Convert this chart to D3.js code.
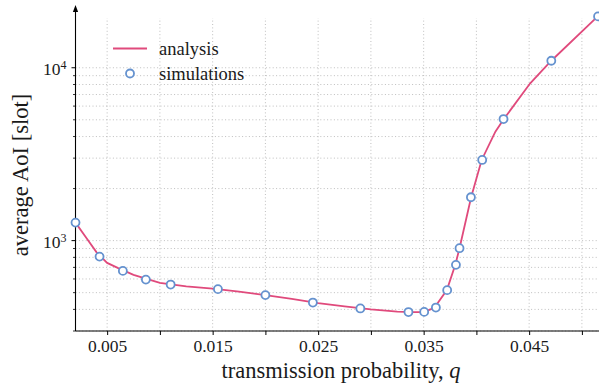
<!DOCTYPE html>
<html>
<head>
<meta charset="utf-8">
<script src="https://cdn.jsdelivr.net/npm/d3@7"></script>
<style>
  body { margin: 0; background: #fff; }
  svg text { font-family: "Liberation Serif", "DejaVu Serif", serif; fill: #1a1a1a; }
</style>
</head>
<body>
<div id="chart"></div>
<script>
// analysis curve
const qAnalysis = [0.002, 0.003, 0.004, 0.005, 0.006, 0.0075, 0.01, 0.0125, 0.015, 0.0175,
                   0.02, 0.0225, 0.025, 0.0275, 0.03, 0.0325, 0.034, 0.035, 0.036, 0.0372,
                   0.038, 0.0384, 0.0395, 0.0405, 0.0418, 0.0426, 0.0451, 0.0471, 0.0515];
const aoiAnalysis = [1271, 1043, 855, 743, 695, 633, 570, 544, 527, 507,
                     484, 460, 435, 416, 400, 388, 386, 386, 408, 517,
                     724, 904, 1782, 2928, 4266, 5051, 8130, 10980, 19820];

// simulation points
const qSim = [0.002, 0.00428, 0.00649, 0.00867, 0.01102, 0.0155, 0.02, 0.0245, 0.029, 0.03356,
              0.03505, 0.03616, 0.03723, 0.03806, 0.0384, 0.03948, 0.04055, 0.04257, 0.0471, 0.05153];
const aoiSim = [1271, 808, 668, 595, 557, 524, 484, 438, 405, 386,
                387, 410, 517, 724, 904, 1782, 2928, 5051, 10980, 19820];

const xTicks = d3.range(1, 11).map(i => +(i * 0.005).toFixed(3));
const xTickLabels = ["0.005", "", "0.015", "", "0.025", "", "0.035", "", "0.045", ""];
const yMajor = [1000, 10000];
const yMinor = [300, 400, 500, 600, 700, 800, 900, 2000, 3000, 4000, 5000, 6000, 7000, 8000, 9000];

const width = 599, height = 383,
      margin = ({ top: 18, right: -4, bottom: 52, left: 75.5 });

const lineColor = "#e04a7c", simColor = "#6592cf";
const serif = "'Liberation Serif', serif";

let svg = d3.select("#chart")
    .append("svg")
    .attr("width", width)
    .attr("height", height);

let x = d3.scaleLinear()
    .domain([0.002, 0.052])
    .range([margin.left, width - margin.right]);

let y = d3.scaleLog()
    .domain([300, 19400])
    .range([height - margin.bottom, margin.top]);

// grid
let grid = svg.append("g")
    .attr("stroke", "#b8b8b8")
    .attr("stroke-width", 0.9)
    .attr("stroke-dasharray", "1,2.4");

grid.selectAll(".vg")
    .data(xTicks)
    .join("line")
    .attr("x1", d => x(d)).attr("x2", d => x(d))
    .attr("y1", y.range()[0]).attr("y2", y.range()[1]);

grid.selectAll(".hg")
    .data(yMajor.concat(yMinor))
    .join("line")
    .attr("x1", x.range()[0]).attr("x2", x.range()[1])
    .attr("y1", d => y(d)).attr("y2", d => y(d));

// x axis
let xAxis = svg.append("g")
    .attr("transform", `translate(0,${height - margin.bottom})`)
    .call(d3.axisBottom(x)
        .tickValues(xTicks)
        .tickFormat((d, i) => xTickLabels[i])
        .tickSize(4)
        .tickPadding(5));
xAxis.attr("font-family", serif);
xAxis.select(".domain").attr("stroke", "#000").attr("stroke-width", 1.1)
    .attr("d", `M${x.range()[0]},0H${width}`);
xAxis.selectAll("text").style("font-size", "17.5px").attr("fill", "#1a1a1a");

// y axis
let yAxis = svg.append("g")
    .attr("transform", `translate(${margin.left},0)`);
yAxis.append("line")
    .attr("x1", 0).attr("x2", 0)
    .attr("y1", y.range()[0]).attr("y2", 9)
    .attr("stroke", "#000").attr("stroke-width", 1.1);
yAxis.append("path")
    .attr("d", "M0,5L-2.6,12L2.6,12Z")
    .attr("fill", "#000");
yAxis.selectAll(".ymaj")
    .data(yMajor)
    .join("line")
    .attr("x1", -4).attr("x2", 0)
    .attr("y1", d => y(d)).attr("y2", d => y(d))
    .attr("stroke", "#000");
yAxis.selectAll(".ymin")
    .data(yMinor)
    .join("line")
    .attr("x1", -2.5).attr("x2", 0)
    .attr("y1", d => y(d)).attr("y2", d => y(d))
    .attr("stroke", "#000").attr("stroke-width", 0.8);

let yLab = yAxis.selectAll(".ylab")
    .data(yMajor)
    .join("text")
    .attr("x", -9)
    .attr("y", d => y(d) + 7.5)
    .attr("text-anchor", "end")
    .style("font-size", "17.5px");
yLab.append("tspan").text("10");
yLab.append("tspan")
    .attr("dy", "-0.55em")
    .style("font-size", "12px")
    .text(d => Math.round(Math.log10(d)));

// analysis line
let line = d3.line()
    .x((d, i) => x(qAnalysis[i]))
    .y(d => y(d));

svg.append("path")
    .datum(aoiAnalysis)
    .attr("fill", "none")
    .attr("stroke", lineColor)
    .attr("stroke-width", 1.8)
    .attr("d", line);

// simulation markers
svg.selectAll(".sim")
    .data(aoiSim)
    .join("circle")
    .attr("cx", (d, i) => x(qSim[i]))
    .attr("cy", d => y(d))
    .attr("r", 4)
    .attr("fill", "#fff")
    .attr("stroke", simColor)
    .attr("stroke-width", 1.8);

// legend
let legend = svg.append("g");
legend.append("line")
    .attr("x1", 113).attr("x2", 147)
    .attr("y1", 48.5).attr("y2", 48.5)
    .attr("stroke", lineColor).attr("stroke-width", 1.8);
legend.append("text")
    .attr("x", 159).attr("y", 54.5)
    .style("font-size", "18.5px")
    .text("analysis");
legend.append("circle")
    .attr("cx", 130).attr("cy", 73.5).attr("r", 4)
    .attr("fill", "#fff").attr("stroke", simColor).attr("stroke-width", 1.8);
legend.append("text")
    .attr("x", 159).attr("y", 79.5)
    .style("font-size", "18.5px")
    .text("simulations");

// axis labels
let xl = svg.append("text")
    .attr("x", 341)
    .attr("y", 378)
    .attr("text-anchor", "middle")
    .style("font-size", "22.5px");
xl.append("tspan").text("transmission probability, ");
xl.append("tspan").style("font-style", "italic").text("q");

svg.append("text")
    .attr("transform", "translate(28,175) rotate(-90)")
    .attr("text-anchor", "middle")
    .style("font-size", "22.5px")
    .text("average AoI [slot]");
</script>
</body>
</html>
